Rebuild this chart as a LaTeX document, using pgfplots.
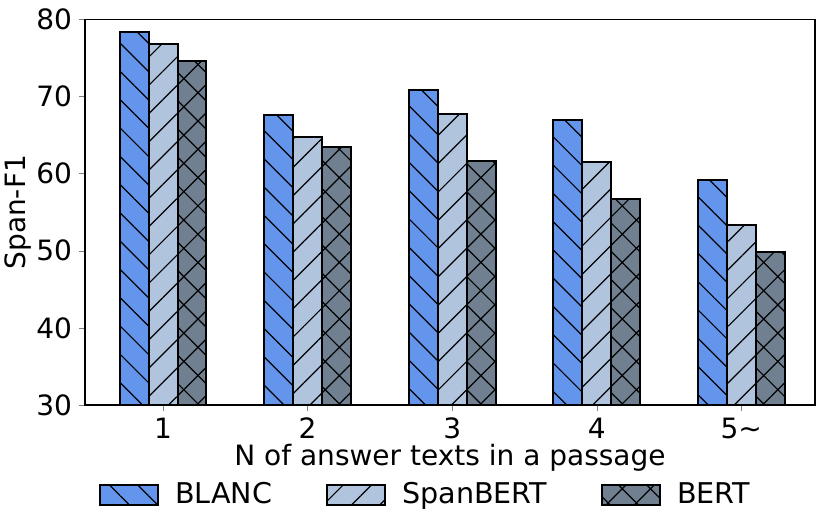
\documentclass[border=0pt]{standalone}
\usepackage{pgfplots}
\pgfplotsset{compat=1.18}
\usepackage{fontspec}
\setmainfont{DejaVu Sans}
\usetikzlibrary{patterns.meta}
\definecolor{blanc}{HTML}{6495ED}
\definecolor{spanbert}{HTML}{B0C4DE}
\definecolor{bert}{HTML}{708090}
\pgfplotsset{mylegend/.style={legend image code/.code={\draw[##1] (0pt,-5pt) rectangle (29pt,5pt);}}}
\begin{document}
\begin{tikzpicture}
\useasboundingbox (-42.5pt,-56pt) rectangle (372.5pt,202.5pt);
\begin{axis}[
 at={(0pt,0pt)}, anchor=south west,
 scale only axis, width=365pt, height=192.75pt,
 ybar=0pt, bar width=0.2,
 xmin=-0.54, xmax=4.51, ymin=30, ymax=80,
 xtick={0,1,2,3,4}, xticklabels={1,2,3,4,5∼},
 ytick={30,40,50,60,70,80},
 tick align=outside, tick pos=left, major tick length=3pt,
 /pgf/number format/assume math mode=true,
 tick label style={font=\fontsize{14}{16}\selectfont, black},
 label style={font=\fontsize{14}{16}\selectfont},
 xlabel={N of answer texts in a passage}, ylabel={Span-F1},
 xlabel style={at={(axis description cs:0.5,-0.1375)}, anchor=center},
 ylabel style={at={(axis description cs:-0.092,0.5)}, anchor=center},
 axis line style={line width=0.6pt},
 legend columns=3,
 legend style={draw=none, fill=none, at={(0.468,-0.233)}, anchor=center, font=\fontsize{14.3}{16}\selectfont,
   /tikz/every odd column/.append style={column sep=6pt},
   /tikz/every even column/.append style={column sep=25pt}},
]
\addplot[fill=blanc, draw=black, line width=1pt, bar shift=-0.2, mylegend,
  postaction={pattern={Lines[angle=-45,distance=10pt,line width=0.6pt]}, pattern color=black}]
  coordinates {(0,78.4) (1,67.6) (2,70.9) (3,67.0) (4,59.2)};
\addplot[fill=spanbert, draw=black, line width=1pt, bar shift=0, mylegend,
  postaction={pattern={Lines[angle=45,distance=10pt,line width=0.6pt]}, pattern color=black}]
  coordinates {(0,76.8) (1,64.7) (2,67.8) (3,61.5) (4,53.4)};
\addplot[fill=bert, draw=black, line width=1pt, bar shift=0.2, mylegend,
  postaction={pattern={Hatch[angle=45,distance=10pt,line width=0.6pt]}, pattern color=black}]
  coordinates {(0,74.6) (1,63.5) (2,61.7) (3,56.7) (4,49.8)};
\legend{BLANC,SpanBERT,BERT}
\end{axis}
\end{tikzpicture}
\end{document}
